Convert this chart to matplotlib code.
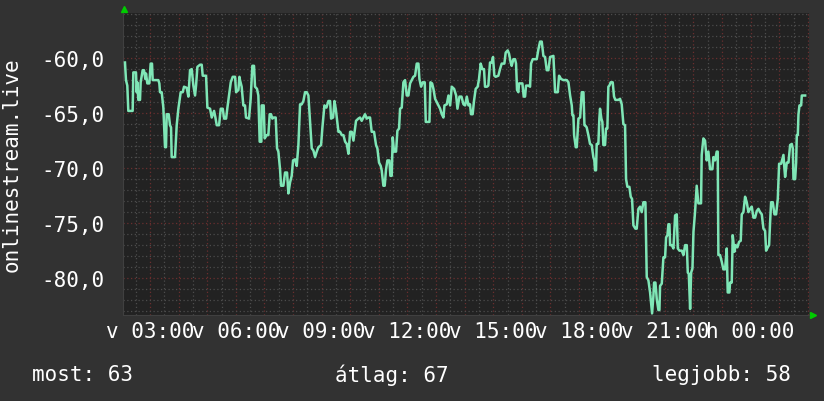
import matplotlib
matplotlib.use("Agg")
import matplotlib.pyplot as plt
from matplotlib.ticker import MultipleLocator

# minutes since 00:00 of the first day
minutes = [
    127.5, 129.6, 132.4, 134.5, 143.6, 145.0, 150.6, 152.0, 153.4, 155.5,
    159.0, 160.4, 164.6, 167.4, 170.2, 171.6, 174.4, 178.6, 181.4, 184.2,
    185.6, 197.5, 199.6, 201.0, 204.5, 208.0, 211.5, 213.6, 215.0, 219.2,
    222.0, 224.1, 225.5, 232.5, 236.0, 239.5, 244.4, 248.6, 251.4, 257.0,
    260.5, 264.0, 267.5, 271.0, 274.5, 276.6, 279.4, 285.0, 288.5, 290.6,
    297.6, 300.4, 306.0, 309.5, 314.4, 317.2, 320.0, 324.9, 328.4, 332.6,
    335.4, 339.6, 342.4, 346.6, 349.4, 353.6, 358.5, 360.6, 365.5, 367.6,
    368.8, 372.3, 375.8, 379.3, 381.4, 387.7, 391.2, 394.7, 398.2, 400.3,
    404.5, 407.3, 410.1, 413.6, 414.3, 418.5, 420.6, 424.8, 428.3, 431.1,
    433.9, 436.7, 439.5, 443.7, 446.5, 449.3, 452.8, 454.9, 459.8, 463.3,
    467.5, 470.3, 473.8, 477.3, 480.1, 484.3, 487.8, 491.3, 494.8, 498.3,
    501.8, 505.3, 508.8, 512.3, 515.8, 519.3, 522.8, 526.3, 529.8, 533.3,
    538.9, 541.7, 545.9, 550.1, 554.3, 557.8, 559.9, 564.1, 566.9, 569.7,
    571.8, 575.3, 578.8, 582.3, 585.8, 589.3, 592.8, 596.3, 599.8, 603.3,
    606.8,
    610.1, 612.2, 617.1, 620.6, 624.1, 627.6, 631.1, 634.6, 638.1, 641.6,
    645.1, 650.0, 654.2, 657.0, 660.5, 664.0, 666.1, 669.6, 672.4, 675.2,
    678.0, 682.2, 684.3, 687.1, 689.2, 692.0, 696.2, 699.0, 702.5, 704.6,
    708.1, 711.6, 715.1, 718.6, 722.1, 725.6, 729.1, 732.6, 736.1, 739.6,
    743.1, 745.2, 748.7, 752.2, 756.4, 758.5, 766.2, 768.3, 771.8, 774.6,
    778.1, 781.6, 785.1, 788.6, 792.1, 795.6, 797.7, 802.6, 806.1, 809.6,
    813.1, 818.0, 822.2, 825.0, 829.2, 833.4, 837.6, 841.1, 844.6, 848.1,
    851.3, 853.4, 856.9, 859.7, 863.2, 867.4, 870.2, 873.7, 877.2, 880.7,
    882.8, 887.0, 889.8, 893.3, 896.8, 899.6, 902.4, 905.2, 910.8, 914.3,
    917.8, 923.4, 926.2, 930.4, 933.2, 936.7, 938.8, 942.3, 945.8, 947.9,
    950.0, 952.8, 954.2, 961.2, 964.0, 966.8, 968.9, 973.8, 977.3, 979.4,
    982.9, 991.3, 994.8, 998.3, 1001.8, 1005.3, 1008.8, 1012.3, 1015.8, 1019.3,
    1026.3, 1029.8, 1035.4, 1038.2, 1042.4, 1047.3, 1054.3, 1057.8, 1061.3, 1064.8,
    1066.2, 1068.3, 1069.7, 1073.2, 1075.3, 1078.8, 1082.3, 1085.8, 1089.3, 1091.4,
    1092.6, 1096.1, 1099.6, 1103.1, 1106.6, 1110.1, 1112.2, 1113.6, 1115.7, 1117.1,
    1120.6, 1122.7, 1124.1, 1126.9, 1129.0, 1131.1, 1134.6, 1136.7, 1139.5, 1141.6,
    1143.7, 1146.5, 1150.7, 1153.5, 1156.3, 1162.6, 1166.1, 1169.6, 1173.1, 1176.6,
    1178.7, 1181.5, 1185.7, 1188.5, 1191.3, 1194.1, 1198.3, 1201.1, 1204.6, 1208.1,
    1211.6, 1215.1, 1219.3, 1222.1, 1225.6, 1229.1, 1231.2, 1233.3, 1236.1, 1237.5,
    1240.3, 1243.1, 1246.6, 1248.7, 1250.1, 1253.6, 1257.1, 1260.6, 1262.7, 1265.5,
    1267.6, 1269.7, 1271.1, 1274.6, 1278.1, 1281.6, 1285.1, 1287.2, 1290.7, 1295.6,
    1299.1, 1302.6, 1306.1, 1308.2, 1310.3, 1311.7, 1313.1, 1315.2, 1318.0, 1320.1,
    1323.4, 1326.9, 1330.4, 1336.0, 1337.4, 1340.9, 1344.4, 1347.9, 1351.4, 1354.9,
    1359.8, 1361.9, 1365.4, 1368.9, 1371.0, 1372.4, 1375.9, 1379.4, 1382.9, 1386.4,
    1389.9, 1392.0, 1395.5, 1396.9, 1400.4, 1402.5, 1406.0, 1408.8, 1412.3, 1415.8,
    1419.3, 1421.4, 1424.9, 1428.4, 1431.9, 1435.4, 1438.9, 1442.4, 1445.9, 1449.4,
    1452.9, 1456.4, 1459.9, 1463.4, 1466.9, 1470.4, 1472.5, 1476.0, 1478.8, 1480.9,
    1483.0, 1486.5, 1490.0, 1493.5, 1497.0, 1499.8, 1504.0, 1507.5, 1508.9, 1511.0,
    1512.4, 1515.9, 1519.4, 1522.9, 1526.4, 1528.5, 1529.9, 1533.4, 1535.5, 1536.9,
    1539.0, 1540.4, 1542.5, 1546.0, 1547.4, 1554.4,
]
signal = [
    -60.4, -62.0, -62.5, -64.8, -64.8, -61.3, -61.3, -63.1, -62.2, -63.8,
    -63.8, -62.2, -61.1, -61.1, -61.9, -61.4, -62.3, -62.3, -60.5, -60.5,
    -62.0, -62.0, -62.3, -63.1, -63.1, -64.5, -68.1, -68.1, -65.1, -65.1,
    -66.1, -66.3, -69.0, -69.0, -66.1, -64.6, -63.1, -63.1, -62.6, -62.7,
    -63.5, -61.1, -61.0, -62.5, -63.4, -62.5, -60.8, -60.6, -60.6, -61.6,
    -61.6, -64.5, -64.6, -65.4, -64.8, -65.4, -66.1, -66.1, -64.6, -64.6,
    -65.5, -65.5, -64.5, -63.1, -62.2, -61.7, -61.7, -63.1, -62.9, -61.7,
    -62.0, -62.6, -64.3, -64.3, -65.4, -65.5, -63.7, -60.7, -60.7, -62.6,
    -62.8, -63.4, -67.6, -67.6, -64.3, -64.3, -67.3, -67.0, -67.0, -65.1,
    -65.1, -65.5, -65.4, -65.4, -68.2, -68.5, -70.1, -71.6, -71.6, -70.4,
    -70.4, -72.3, -71.3, -70.7, -69.3, -69.2, -69.8, -67.9, -64.2, -64.2,
    -63.9, -63.1, -63.1, -63.4, -65.8, -68.2, -68.4, -69.0, -68.5, -68.1,
    -67.9, -66.3, -64.3, -64.5, -63.9, -63.9, -65.5, -65.4, -63.9, -64.6,
    -65.4, -66.7, -66.7, -67.0, -67.0, -67.6, -67.8, -68.7, -66.7, -66.7,
    -67.5,
    -66.4, -65.7, -65.5, -65.4, -65.7, -65.4, -65.1, -65.5, -65.4, -65.4,
    -66.7, -66.7, -67.9, -68.2, -69.5, -69.8, -70.2, -71.6, -71.6, -70.1,
    -69.3, -69.3, -70.7, -70.7, -67.2, -68.5, -68.5, -66.6, -66.4, -64.6,
    -64.5, -62.2, -62.0, -63.4, -63.4, -62.3, -62.0, -61.7, -61.6, -60.5,
    -60.5, -61.9, -62.6, -62.2, -62.2, -65.8, -65.8, -62.2, -62.3, -62.8,
    -63.7, -64.0, -64.3, -64.6, -65.1, -65.4, -64.3, -64.2, -63.4, -64.3,
    -62.6, -62.8, -63.4, -64.6, -63.5, -63.5, -64.2, -64.3, -63.5, -64.3,
    -64.2, -65.1, -65.1, -63.9, -62.8, -62.6, -61.9, -60.5, -61.0, -61.0,
    -62.6, -62.6, -62.5, -60.4, -60.4, -59.9, -61.6, -61.7, -61.6, -61.0,
    -60.5, -60.5, -59.5, -59.3, -59.6, -60.4, -60.7, -60.1, -60.1, -60.5,
    -62.9, -63.1, -62.3, -62.3, -63.5, -63.5, -62.5, -62.5, -62.6, -60.5,
    -60.1, -60.1, -59.2, -58.5, -58.5, -59.8, -59.9, -61.1, -61.1, -59.9,
    -59.8, -63.1, -63.1, -61.6, -61.9, -62.0, -62.0, -62.2, -63.4, -64.3,
    -65.2, -65.2, -67.0, -68.1, -68.1, -65.5, -65.4, -63.1, -63.1, -66.1,
    -66.1, -66.3, -67.0, -67.8, -67.9, -69.0, -69.3, -70.2, -70.2, -67.8,
    -67.8, -65.5, -64.6, -65.5, -65.8, -67.9, -67.9, -66.4, -66.4, -62.6,
    -62.5, -62.2, -62.2, -63.5, -63.8, -63.8, -63.7, -64.2, -66.0, -66.1,
    -71.0, -71.7, -71.7, -72.6, -72.8, -75.2, -75.5, -75.5, -73.7, -73.5,
    -74.0, -73.1, -73.1, -79.9, -80.2, -81.3, -82.2, -83.2, -81.6, -80.4,
    -80.4, -81.9, -82.9, -82.9, -80.7, -80.5, -78.1, -78.1, -76.3, -76.1,
    -75.1, -75.1, -77.0, -77.0, -77.3, -74.3, -74.2, -77.3, -77.5, -77.5,
    -77.9, -77.0, -77.0, -79.5, -79.6, -81.3, -82.8, -79.5, -79.1, -75.8,
    -74.0, -71.6, -73.2, -73.2, -68.8, -67.3, -67.5, -69.3, -68.5, -70.1,
    -70.1, -69.0, -69.3, -68.5, -68.5, -77.9, -77.9, -78.5, -79.2, -79.2,
    -77.3, -81.3, -81.3, -80.4, -80.4, -76.1, -77.6, -77.0, -77.2, -76.7,
    -76.6, -74.2, -74.0, -72.6, -73.1, -74.0, -73.7, -73.5, -74.5, -74.5,
    -73.9, -73.7, -74.0, -74.2, -75.5, -75.7, -77.5, -77.2, -77.0, -74.9,
    -73.1, -73.1, -74.2, -74.2, -72.8, -69.6, -69.6, -69.0, -68.8, -70.1,
    -70.8, -69.5, -69.5, -67.9, -67.8, -68.2, -71.0, -71.0, -69.5, -67.0,
    -67.0, -65.1, -64.3, -64.3, -63.4, -63.4,
]

tick_minutes = [180, 360, 540, 720, 900, 1080, 1260, 1440]
tick_labels = ['v 03:00', 'v 06:00', 'v 09:00', 'v 12:00',
               'v 15:00', 'v 18:00', 'v 21:00', 'h 00:00']
y_ticks = [-80, -75, -70, -65, -60]
y_name = 'onlinestream.live'
stats = ['most: 63', 'átlag: 67', 'legjobb: 58']

mono = 'DejaVu Sans Mono'
bg = '#323232'

fig = plt.figure(figsize=(8.24, 4.02), dpi=100, facecolor=bg)
ax = fig.add_axes([0.1493, 0.2139, 0.8325, 0.7513])
ax.set_facecolor('#222222')

ax.plot(minutes, signal, color='#7fe6b6', lw=1.8, zorder=3)

ax.set_xlim(123.4, 1562.5)
ax.set_ylim(-83.35, -55.9)

# hourly red grid, labels every 3 hours
hours = list(range(180, 1562, 60))
ax.set_xticks(hours)
ax.set_xticklabels([tick_labels[tick_minutes.index(h)] if h in tick_minutes else ''
                    for h in hours])
ax.xaxis.set_minor_locator(MultipleLocator(30))
ax.set_yticks(y_ticks)
ax.set_yticklabels([f"{v:.1f}".replace('.', ',') for v in y_ticks])
ax.yaxis.set_minor_locator(MultipleLocator(1))

ax.grid(which='major', color='#6a2e2e', linestyle=(0, (1, 2)), lw=0.9)
ax.grid(which='minor', color='#4c4c4c', linestyle=(0, (1, 2)), lw=0.9)
ax.set_axisbelow(True)

ax.tick_params(which='both', length=0, colors='white', labelsize=15)
ax.tick_params(axis='x', pad=4)
ax.tick_params(axis='y', pad=13)
for lab in ax.get_xticklabels() + ax.get_yticklabels():
    lab.set_family(mono)

for s in ['top', 'right']:
    ax.spines[s].set_visible(False)
for s in ['left', 'bottom']:
    ax.spines[s].set_color('#404040')

# little green arrows at the axis ends
ax.plot([0.002], [1.013], marker='^', color='#00cc00', ms=5, transform=ax.transAxes, clip_on=False)
ax.plot([1.006], [0.0], marker='>', color='#00cc00', ms=5, transform=ax.transAxes, clip_on=False)

fig.text(0.0146, 0.5896, y_name, rotation=90, ha='center', va='center',
         color='white', fontsize=15, family=mono)

fig.text(0.0388, 0.067, stats[0], ha='left', va='center', color='white', fontsize=15, family=mono)
fig.text(0.4757, 0.067, stats[1], ha='center', va='center', color='white', fontsize=15, family=mono)
fig.text(0.96, 0.067, stats[2], ha='right', va='center', color='white', fontsize=15, family=mono)

fig.savefig('out.png', dpi=100, facecolor=bg)
